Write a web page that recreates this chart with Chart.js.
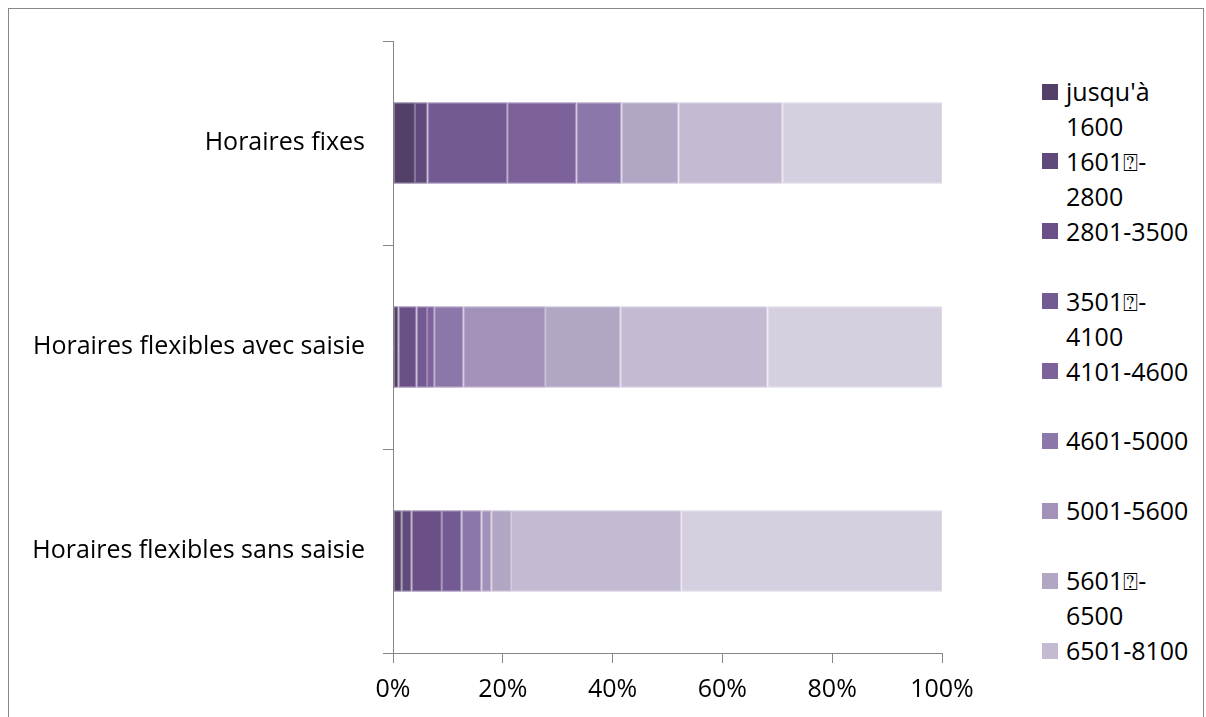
<!DOCTYPE html>
<html lang="fr">
<head>
<meta charset="UTF-8">
<title>Horaires et tranches de revenu</title>
<script src="https://cdn.jsdelivr.net/npm/chart.js"></script>
<style>
    html, body { margin: 0; width: 1206px; height: 717px; overflow: hidden; background: #fff; font-family: "Open Sans", sans-serif; }
    .frame { position: absolute; left: 8px; top: 8px; width: 1196px; height: 730px; border: 1px solid #888; box-sizing: border-box; }
    .chart-box { position: absolute; left: 0; top: 0; width: 1000px; height: 717px; }
    #legend { position: absolute; left: 1042px; top: 74px; width: 162px; height: 628px; overflow: hidden; }
    .item { height: 69.9px; display: flex; align-items: flex-start; }
    .swatch { width: 16px; height: 16px; margin-top: 9.5px; margin-right: 8px; flex: none; }
    .txt { font-size: 25px; line-height: 35px; white-space: pre-line; color: #000; }
</style>
</head>
<body>
<div class="frame"></div>
<div class="chart-box"><canvas id="chart"></canvas></div>
<div id="legend"></div>

<script>
    // categories (top to bottom)
    const categories = ['Horaires fixes', 'Horaires flexibles avec saisie', 'Horaires flexibles sans saisie'];

    // tranches de revenu (la dernière ne tient plus dans la légende)
    const bracketLabels = ["jusqu'à\n1600", '1601⍰-\n2800', '2801-3500', '3501⍰-\n4100', '4101-4600',
        '4601-5000', '5001-5600', '5601⍰-\n6500', '6501-8100', 'plus de 8100'];

    // parts en % par tranche, une valeur par catégorie
    const b1600 = [4.0, 1.0, 1.6];
    const b2800 = [2.3, 0, 1.8];
    const b3500 = [0, 3.3, 5.5];
    const b4100 = [14.5, 1.9, 3.6];
    const b4600 = [12.6, 1.3, 0];
    const b5000 = [8.2, 5.3, 3.6];
    const b5600 = [0, 14.9, 1.8];
    const b6500 = [10.4, 13.7, 3.6];
    const b8100 = [18.9, 26.8, 31.0];
    const bPlus = [29.1, 31.8, 47.5];
    const seriesValues = [b1600, b2800, b3500, b4100, b4600, b5000, b5600, b6500, b8100, bPlus];

    const xTicks = [0, 20, 40, 60, 80, 100];

    const colors = ['#524069', '#5f4a7b', '#6a5087', '#735a93', '#7d619b',
        '#8c77aa', '#a291b8', '#b1a7c4', '#c4bbd3', '#d5cfdf'];

    const axisColor = '#868686';
    const font = { family: '"Open Sans", sans-serif', size: 25 };

    // contour légèrement plus clair que le remplissage
    function lighten(hex, t) {
        const n = parseInt(hex.slice(1), 16);
        const ch = [(n >> 16) & 255, (n >> 8) & 255, n & 255].map(c => Math.round(c + (255 - c) * t));
        return `rgb(${ch.join(',')})`;
    }

    const datasets = seriesValues.map((vals, i) => ({
        label: bracketLabels[i].replace('\n', ''),
        data: vals,
        backgroundColor: colors[i],
        borderColor: lighten(colors[i], 0.22),
        borderWidth: c => (c.raw > 0 ? 1 : 0),
        borderSkipped: false,
        barPercentage: 0.4,
        categoryPercentage: 1
    }));

    new Chart(document.getElementById('chart'), {
        type: 'bar',
        data: { labels: categories, datasets: datasets },
        options: {
            indexAxis: 'y',
            responsive: true,
            maintainAspectRatio: false,
            animation: false,
            layout: { padding: { top: 41, right: 58, left: 0, bottom: 0 } },
            plugins: { legend: { display: false }, tooltip: { enabled: false } },
            scales: {
                x: {
                    stacked: true,
                    min: xTicks[0],
                    max: xTicks[xTicks.length - 1],
                    afterBuildTicks: s => { s.ticks = xTicks.map(v => ({ value: v })); },
                    afterFit: s => { s.height = 64; },
                    ticks: { callback: v => v + '%', font: font, color: '#000', padding: 12, maxRotation: 0 },
                    grid: { drawOnChartArea: false, tickLength: 10, color: axisColor },
                    border: { color: axisColor }
                },
                y: {
                    stacked: true,
                    afterFit: s => { s.width = 393; },
                    ticks: { font: font, color: '#000', padding: 18 },
                    grid: { drawOnChartArea: false, tickLength: 10, color: axisColor, offset: true },
                    border: { color: axisColor }
                }
            }
        }
    });

    // légende à droite, comme dans l'original (texte sur deux lignes)
    const legend = document.getElementById('legend');
    bracketLabels.forEach((lab, i) => {
        const item = document.createElement('div');
        item.className = 'item';
        item.innerHTML = `<span class="swatch" style="background:${colors[i]}"></span><span class="txt"></span>`;
        item.querySelector('.txt').textContent = lab;
        legend.appendChild(item);
    });
</script>
</body>
</html>
